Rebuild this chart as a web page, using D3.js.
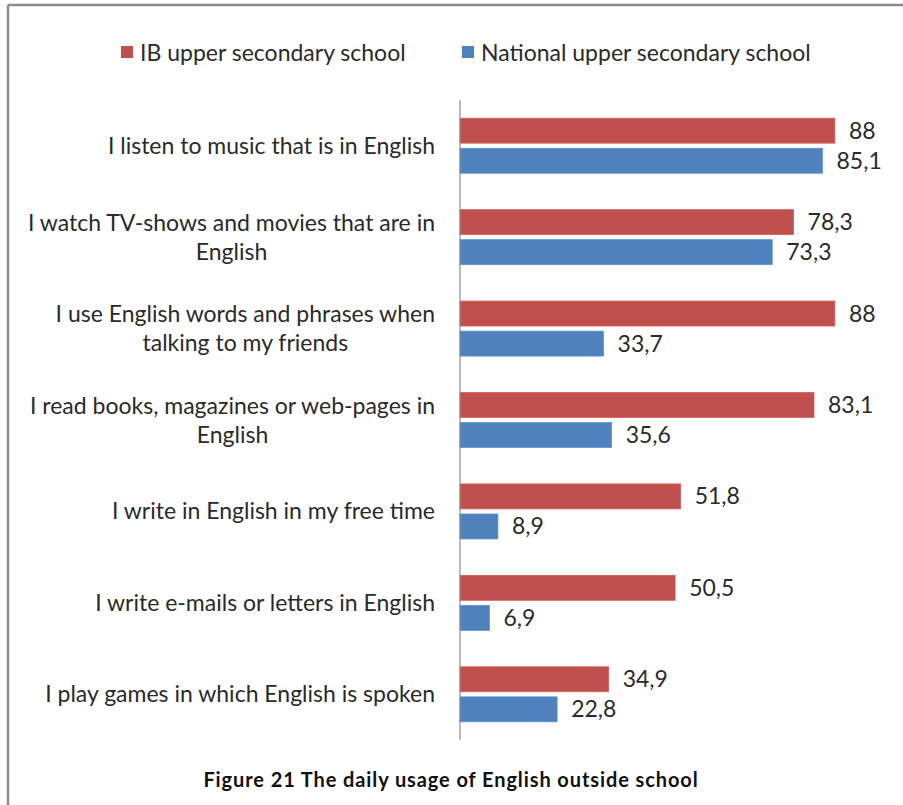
<!DOCTYPE html>
<html>
<head>
<meta charset="utf-8">
<script src="https://cdn.jsdelivr.net/npm/d3@7"></script>
<style>
  html, body { margin: 0; padding: 0; background: #fff; }
  svg { display: block; }
</style>
</head>
<body>
<svg id="chart" width="903" height="805"></svg>
<script>
// Survey statements (each entry is the wrapped lines of one label)
const categories = [
  ["I listen to music that is in English"],
  ["I watch TV-shows and movies that are in", "English"],
  ["I use English words and phrases when", "talking to my friends"],
  ["I read books, magazines or web-pages in", "English"],
  ["I write in English in my free time"],
  ["I write e-mails or letters in English"],
  ["I play games in which English is spoken"]
];
const seriesNames = ["IB upper secondary school", "National upper secondary school"];
const ibValues = [88, 78.3, 88, 83.1, 51.8, 50.5, 34.9];
const nationalValues = [85.1, 73.3, 33.7, 35.6, 8.9, 6.9, 22.8];
const seriesColors = ["#C0504D", "#4F81BD"];
const titleText = "Figure 21 The daily usage of English outside school";

const font = "Lato, 'Liberation Sans', sans-serif";
const fontSize = 23;
const textColor = "#2a2a2a";

const rows = categories.map((lines, i) => ({
  key: lines.join(" "),
  lines,
  values: [ibValues[i], nationalValues[i]]
}));

const svg = d3.select("#chart");

// Frame lines (top and left edges of the figure box)
svg.append("line").attr("x1", 8).attr("x2", 903).attr("y1", 5).attr("y2", 5)
  .attr("stroke", "#8c8c8c").attr("stroke-width", 2.5);
svg.append("line").attr("x1", 8).attr("x2", 8).attr("y1", 5).attr("y2", 805)
  .attr("stroke", "#8c8c8c").attr("stroke-width", 2.5);

const x = d3.scaleLinear().domain([0, 100]).range([460, 886]);
const y = d3.scaleBand().domain(rows.map(d => d.key)).range([100, 740]);
const groupPad = (y.bandwidth() - 55) / 2;
const ySeries = d3.scaleBand().domain(seriesNames).range([0, 55]).paddingInner(0.17);

const fmt = d3.formatLocale({ decimal: ",", thousands: " ", grouping: [3], currency: ["", ""] }).format("~f");

const groups = svg.append("g").selectAll("g.row")
  .data(rows).join("g")
  .attr("class", "row")
  .attr("transform", d => `translate(0,${y(d.key) + groupPad})`);

groups.selectAll("rect")
  .data(d => d.values.map((v, j) => ({ v, s: seriesNames[j], j })))
  .join("rect")
  .attr("x", x(0))
  .attr("y", d => ySeries(d.s))
  .attr("width", d => x(d.v) - x(0))
  .attr("height", ySeries.bandwidth())
  .attr("fill", d => seriesColors[d.j])
  .attr("stroke", d => d3.color(seriesColors[d.j]).brighter(0.4))
  .attr("stroke-width", 0.8);

groups.selectAll("text.val")
  .data(d => d.values.map((v, j) => ({ v, s: seriesNames[j], j })))
  .join("text")
  .attr("class", "val")
  .attr("x", d => x(d.v) + 14)
  .attr("y", d => ySeries(d.s) + ySeries.bandwidth() / 2 + 8)
  .attr("font-family", font)
  .attr("font-size", fontSize)
  .attr("fill", textColor)
  .text(d => fmt(d.v));

// Vertical category axis line
svg.append("line")
  .attr("x1", x(0)).attr("x2", x(0))
  .attr("y1", y.range()[0]).attr("y2", y.range()[1])
  .attr("stroke", "#8c8c8c").attr("stroke-width", 1.2);

// Category labels: block right-aligned to the axis, lines centred within block
const labelRight = 435;
const lineH = 29;
const labelG = svg.append("g");
rows.forEach(d => {
  const g = labelG.append("g");
  const cy = y(d.key) + y.bandwidth() / 2;
  const texts = d.lines.map((ln, k) => g.append("text")
    .attr("font-family", font)
    .attr("font-size", fontSize)
    .attr("fill", textColor)
    .attr("y", cy + 8 + (k - (d.lines.length - 1) / 2) * lineH)
    .text(ln));
  const widths = texts.map(t => t.node().getComputedTextLength());
  const maxW = d3.max(widths);
  const center = labelRight - maxW / 2;
  texts.forEach(t => t.attr("x", center).attr("text-anchor", "middle"));
});

// Legend
const legendPos = [121, 462];
const legend = svg.append("g").selectAll("g")
  .data(seriesNames).join("g")
  .attr("transform", (d, i) => `translate(${legendPos[i]},46)`);
legend.append("rect").attr("width", 12).attr("height", 12)
  .attr("fill", (d, i) => seriesColors[i]);
legend.append("text").attr("x", 19).attr("y", 15)
  .attr("font-family", font).attr("font-size", fontSize).attr("fill", textColor)
  .text(d => d);

// Figure caption
svg.append("text")
  .attr("x", 451).attr("y", 787)
  .attr("text-anchor", "middle")
  .attr("font-family", font).attr("font-size", 20).attr("font-weight", "bold")
  .attr("letter-spacing", 0.9)
  .attr("fill", "#111")
  .text(titleText);
</script>
</body>
</html>
